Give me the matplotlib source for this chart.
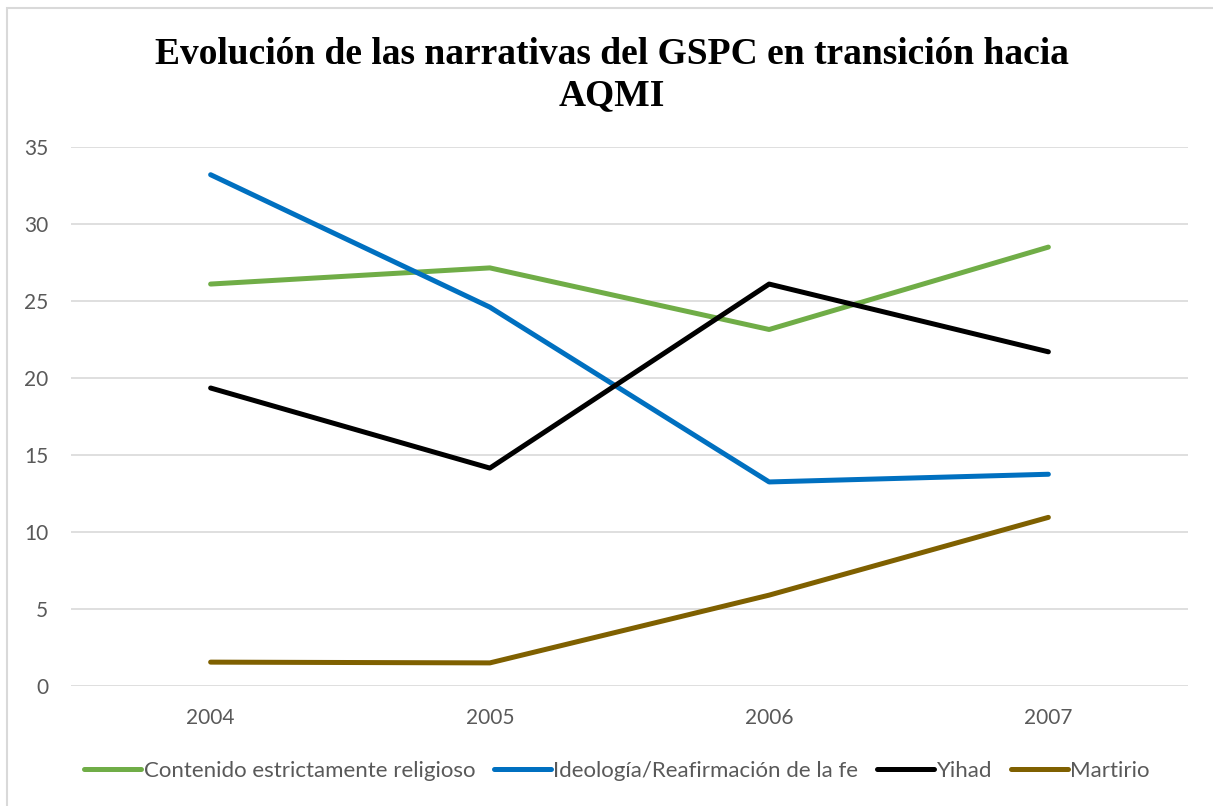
import numpy as np
import matplotlib.pyplot as plt
from matplotlib.patches import Rectangle

# Datos
anios = ['2004', '2005', '2006', '2007']
religioso = [26.1, 27.15, 23.15, 28.5]
ideologia = [33.2, 24.6, 13.25, 13.75]
yihad = [19.35, 14.15, 26.1, 21.7]
martirio = [1.55, 1.5, 5.9, 10.95]

series = [
    ('Contenido estrictamente religioso', religioso, '#70AD47'),
    ('Ideología/Reafirmación de la fe', ideologia, '#0070C0'),
    ('Yihad', yihad, '#000000'),
    ('Martirio', martirio, '#7F6000'),
]

plt.rcParams['font.family'] = ['Lato', 'DejaVu Sans']

fig = plt.figure(figsize=(12.13, 8.06), dpi=100)
ax = fig.add_axes([71 / 1213, 1 - 686 / 806, (1188 - 71) / 1213, (686 - 147) / 806])

x = np.arange(len(anios))
for nombre, valores, color in series:
    ax.plot(x, valores, color=color, linewidth=3.6, solid_capstyle='round',
            solid_joinstyle='round', label=nombre)

ax.set_xlim(-0.5, len(anios) - 0.5)
ax.set_ylim(0, 35)
ax.set_yticks(np.arange(0, 36, 5))
ax.set_xticks(x)
ax.set_xticklabels(anios)
ax.tick_params(length=0, labelsize=15, labelcolor='#595959')
ax.tick_params(axis='y', pad=16.5)
ax.tick_params(axis='x', pad=15.5)
ax.grid(axis='y', color='#D9D9D9', linewidth=1.2)
ax.set_axisbelow(True)
for s in ax.spines.values():
    s.set_visible(False)

fig.text(612 / 1213, 1 - 75 / 806, 'Evolución de las narrativas del GSPC en transición hacia\nAQMI',
         ha='center', va='center', family='Liberation Serif', weight='bold',
         fontsize=27, linespacing=1.22)

leg = fig.legend(loc='center', bbox_to_anchor=(617 / 1213, 1 - 771 / 806), ncol=4,
                 frameon=False, fontsize=16, handlelength=2.57, handletextpad=0.1,
                 columnspacing=0.85)
for t in leg.get_texts():
    t.set_color('#595959')

fig.patches.append(Rectangle((7 / 1213, -0.1), 1.2, 1 - 8 / 806 + 0.1,
                             transform=fig.transFigure, fill=False,
                             edgecolor='#D9D9D9', linewidth=1.5))

fig.savefig('out.png', dpi=100)
